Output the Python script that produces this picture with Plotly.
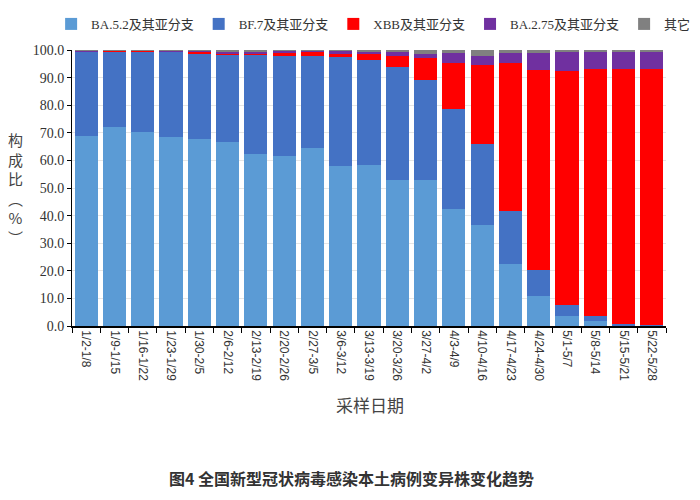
import plotly.graph_objects as go

# sampling weeks
weeks = ["1/2-1/8", "1/9-1/15", "1/16-1/22", "1/23-1/29", "1/30-2/5", "2/6-2/12",
         "2/13-2/19", "2/20-2/26", "2/27-3/5", "3/6-3/12", "3/13-3/19", "3/20-3/26",
         "3/27-4/2", "4/3-4/9", "4/10-4/16", "4/17-4/23", "4/24-4/30", "5/1-5/7",
         "5/8-5/14", "5/15-5/21", "5/22-5/28"]

# composition (%) per variant group
ba52 = [68.8, 72.0, 70.4, 68.5, 67.9, 66.7, 62.2, 61.6, 64.5, 58.1, 58.3, 52.8,
        52.8, 42.3, 36.6, 22.5, 10.8, 3.8, 1.7, 0.3, 0.1]
bf7 = [30.7, 27.6, 29.2, 30.8, 31.0, 31.5, 36.0, 36.4, 33.5, 39.4, 38.2, 41.0,
       36.3, 36.3, 29.3, 19.2, 9.6, 3.7, 2.1, 0.6, 0.2]
xbb = [0.1, 0.1, 0.1, 0.2, 0.4, 0.6, 0.6, 1.2, 1.5, 1.2, 1.9, 3.9,
       8.1, 16.8, 28.7, 53.6, 72.5, 84.8, 89.3, 92.2, 92.8]
ba275 = [0.1, 0.1, 0.1, 0.3, 0.4, 0.7, 0.7, 0.5, 0.3, 1.0, 1.1, 1.5,
         1.5, 3.6, 3.4, 3.7, 6.1, 7.0, 6.2, 6.2, 6.2]
other = [0.3, 0.2, 0.2, 0.2, 0.3, 0.5, 0.5, 0.3, 0.2, 0.3, 0.5, 0.8,
         1.3, 1.0, 2.0, 1.0, 1.0, 0.7, 0.7, 0.7, 0.7]

series = [
    ("BA.5.2及其亚分支", ba52, "#5B9BD5"),
    ("BF.7及其亚分支", bf7, "#4472C4"),
    ("XBB及其亚分支", xbb, "#FF0000"),
    ("BA.2.75及其亚分支", ba275, "#7030A0"),
    ("其它", other, "#808080"),
]

serif = "Liberation Serif, Noto Sans CJK SC"
cjk = "Noto Sans CJK SC"

fig = go.Figure()
for name, vals, color in series:
    fig.add_trace(go.Bar(x=weeks, y=vals, name=name, marker_color=color,
                         marker_line_width=0))

# figure is a bit wider than the window so the legend gets one row;
# the x axis only uses the left part of the area
fig.update_layout(
    width=780, height=492,
    barmode="stack", bargap=0.18,
    plot_bgcolor="white", paper_bgcolor="white",
    margin=dict(l=64, r=20, t=42, b=174, autoexpand=False),
    showlegend=True,
    legend=dict(orientation="h", x=-0.03, y=1.04, xanchor="left", yanchor="bottom",
                font=dict(family=serif, size=13, color="#333333"),
                itemwidth=30, traceorder="normal"),
    font=dict(family=serif, color="#333333"),
)

fig.update_yaxes(range=[0, 100], dtick=10, tickformat=".1f",
                 showline=True, linecolor="black", linewidth=1,
                 ticks="outside", ticklen=4, tickcolor="black",
                 showgrid=True, gridcolor="#E6E6E6",
                 tickfont=dict(family="Liberation Serif", size=14, color="#333333"))
fig.update_xaxes(domain=[0, 594 / 696], tickangle=90, tickson="boundaries",
                 showline=True, linecolor="black", linewidth=1.5,
                 ticks="outside", ticklen=5, tickcolor="black",
                 tickfont=dict(family="Liberation Sans", size=12, color="#333333"))

# vertical y-axis title
fig.add_annotation(text="构<br>成<br>比<br>︵<br>%<br>︶", x=-0.0805, y=0.5,
                   xref="paper", yref="paper", xanchor="center", yanchor="middle",
                   showarrow=False, font=dict(family=cjk, size=15, color="#444444"))
# x-axis title
fig.add_annotation(text="采样日期", x=0.428, y=-0.286, xref="paper", yref="paper",
                   xanchor="center", yanchor="middle",
                   showarrow=False, font=dict(family=cjk, size=17, color="#444444"))
# caption
fig.add_annotation(text="<b>图4 全国新型冠状病毒感染本土病例变异株变化趋势</b>",
                   x=0.402, y=-0.551, xref="paper", yref="paper",
                   xanchor="center", yanchor="middle", showarrow=False,
                   font=dict(family=cjk, size=16, color="#333333"))

fig.write_html("out.html")
